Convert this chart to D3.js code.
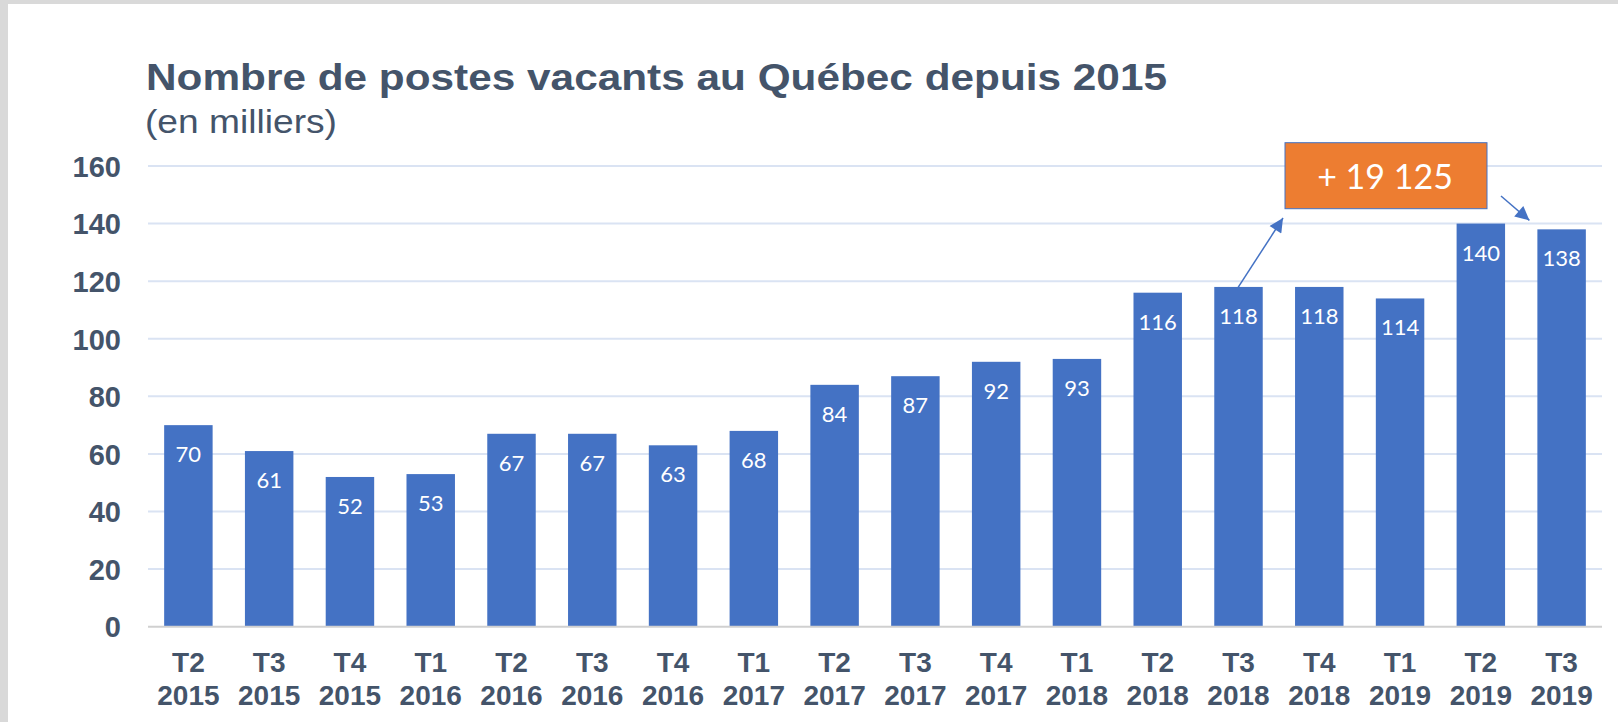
<!DOCTYPE html>
<html>
<head>
<meta charset="utf-8">
<script src="https://cdn.jsdelivr.net/npm/d3@7"></script>
<style>
  body { margin: 0; background: #fff; }
  svg { display: block; }
</style>
</head>
<body>
<div id="chart"></div>
<script>
// data (en milliers)
const quarters = ["T2", "T3", "T4", "T1", "T2", "T3", "T4", "T1", "T2", "T3", "T4", "T1", "T2", "T3", "T4", "T1", "T2", "T3"];
const years = ["2015", "2015", "2015", "2016", "2016", "2016", "2016", "2017", "2017", "2017", "2017", "2018", "2018", "2018", "2018", "2019", "2019", "2019"];
const vacancies = [70, 61, 52, 53, 67, 67, 63, 68, 84, 87, 92, 93, 116, 118, 118, 114, 140, 138];
const yTicks = [0, 20, 40, 60, 80, 100, 120, 140, 160];
const annotationText = "+ 19 125";
const titleText = "Nombre de postes vacants au Québec depuis 2015";
const subtitleText = "(en milliers)";

const width = 1618, height = 722;
const textColor = "#44546A", barColor = "#4472C4";

const data = quarters.map((q, i) => ({ key: q + " " + years[i], q: q, year: years[i], value: vacancies[i] }));

const svg = d3.select("#chart").append("svg")
  .attr("width", width)
  .attr("height", height);

// grey frame round the slide
svg.append("rect").attr("x", 0).attr("y", 0).attr("width", width).attr("height", height).attr("fill", "#D9D9D9");
svg.append("rect").attr("x", 8).attr("y", 4).attr("width", width - 8).attr("height", height - 4).attr("fill", "#fff");

const x = d3.scaleBand()
  .domain(data.map(d => d.key))
  .range([148, 1602])
  .paddingInner(0.4)
  .paddingOuter(0.2);

const y = d3.scaleLinear()
  .domain([0, 160])
  .range([626.7, 166]);

// title
svg.append("text")
  .attr("x", 146).attr("y", 89.5)
  .attr("textLength", 1021).attr("lengthAdjust", "spacingAndGlyphs")
  .style("font-family", "'Liberation Sans', Arial, sans-serif")
  .style("font-weight", "bold").style("font-size", "37px")
  .attr("fill", textColor)
  .text(titleText);
svg.append("text")
  .attr("x", 145).attr("y", 132.7)
  .attr("textLength", 192).attr("lengthAdjust", "spacingAndGlyphs")
  .style("font-family", "'Liberation Sans', Arial, sans-serif")
  .style("font-size", "34px")
  .attr("fill", textColor)
  .text(subtitleText);

// gridlines
svg.append("g").selectAll("line")
  .data(yTicks.filter(t => t > 0))
  .enter().append("line")
  .attr("x1", 148).attr("x2", 1602)
  .attr("y1", d => y(d)).attr("y2", d => y(d))
  .attr("stroke", "#DAE3F3").attr("stroke-width", 2);

// y axis labels
const yAxis = svg.append("g")
  .attr("transform", "translate(121,1)")
  .call(d3.axisLeft(y).tickValues(yTicks).tickSize(0).tickPadding(0));
yAxis.select(".domain").remove();
yAxis.selectAll("text")
  .style("font-family", "'Liberation Sans', Arial, sans-serif")
  .style("font-weight", "bold").style("font-size", "29px")
  .attr("fill", textColor);

// bars
svg.append("g").selectAll("rect")
  .data(data)
  .enter().append("rect")
  .attr("x", d => x(d.key))
  .attr("y", d => y(d.value))
  .attr("width", x.bandwidth())
  .attr("height", d => y(0) - y(d.value))
  .attr("fill", barColor);

// zero line
svg.append("line")
  .attr("x1", 148).attr("x2", 1602)
  .attr("y1", y(0)).attr("y2", y(0))
  .attr("stroke", "#D0D0D0").attr("stroke-width", 2);

// value labels
svg.append("g").selectAll("text")
  .data(data)
  .enter().append("text")
  .attr("x", d => x(d.key) + x.bandwidth() / 2)
  .attr("y", d => y(d.value) + 37)
  .attr("text-anchor", "middle")
  .style("font-family", "Lato, 'Open Sans', sans-serif")
  .style("font-size", "22px")
  .attr("fill", "#fff")
  .text(d => d3.format(".0f")(d.value));

// x axis labels (two lines)
const xl = svg.append("g").selectAll("text")
  .data(data)
  .enter().append("text")
  .attr("text-anchor", "middle")
  .style("font-family", "'Liberation Sans', Arial, sans-serif")
  .style("font-weight", "bold").style("font-size", "28px")
  .attr("fill", textColor);
xl.append("tspan")
  .attr("x", d => x(d.key) + x.bandwidth() / 2)
  .attr("y", 671.7)
  .text(d => d.q);
xl.append("tspan")
  .attr("x", d => x(d.key) + x.bandwidth() / 2)
  .attr("y", 705)
  .text(d => d.year);

// annotation
const defs = svg.append("defs");
defs.append("marker")
  .attr("id", "arrow")
  .attr("viewBox", "0 0 10 10")
  .attr("refX", 10).attr("refY", 5)
  .attr("markerWidth", 17).attr("markerHeight", 14)
  .attr("markerUnits", "userSpaceOnUse")
  .attr("orient", "auto")
  .append("path").attr("d", "M0,0 L10,5 L0,10 z").attr("fill", barColor);

const startBar = data[13], endBar = data[17];
const bx = x(startBar.key) + x.bandwidth() / 2;
svg.append("line")
  .attr("x1", bx - 2).attr("y1", y(startBar.value) + 3)
  .attr("x2", 1283).attr("y2", 218)
  .attr("stroke", barColor).attr("stroke-width", 1.5)
  .attr("marker-end", "url(#arrow)");
svg.append("line")
  .attr("x1", 1501).attr("y1", 196)
  .attr("x2", x(endBar.key) - 8).attr("y2", y(endBar.value) - 9)
  .attr("stroke", barColor).attr("stroke-width", 1.5)
  .attr("marker-end", "url(#arrow)");

svg.append("rect")
  .attr("x", 1285).attr("y", 142.7)
  .attr("width", 202).attr("height", 66)
  .attr("fill", "#ED7D31")
  .attr("stroke", "#4472C4").attr("stroke-width", 1);
svg.append("text")
  .attr("x", 1385).attr("y", 189)
  .attr("text-anchor", "middle")
  .style("font-family", "Lato, 'Open Sans', sans-serif")
  .style("font-size", "34px")
  .attr("fill", "#fff")
  .text(annotationText);
</script>
</body>
</html>
